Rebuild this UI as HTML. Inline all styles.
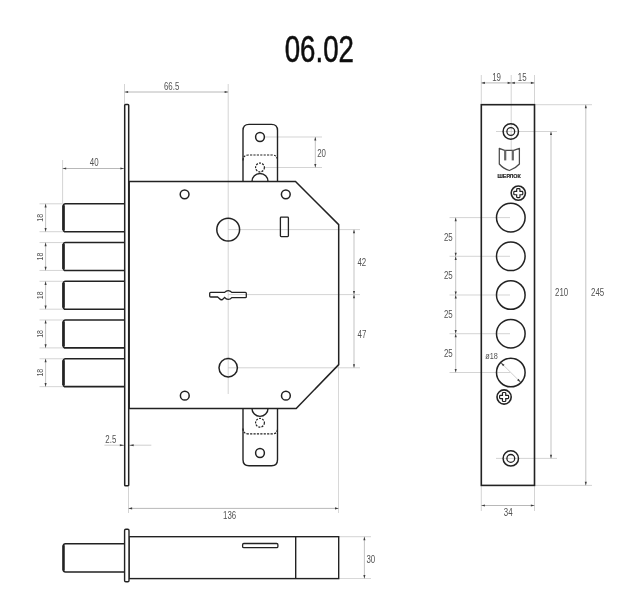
<!DOCTYPE html>
<html lang="ru"><head><meta charset="utf-8"><title>06.02</title>
<style>
html,body{margin:0;padding:0;background:#fff;}
body{width:640px;height:609px;overflow:hidden;}
svg{display:block;}
svg text{font-family:"Liberation Sans",sans-serif;}
</style></head><body>
<svg width="640" height="609" viewBox="0 0 640 609">
<defs><filter id="soft" x="0" y="0" width="640" height="609" filterUnits="userSpaceOnUse"><feGaussianBlur stdDeviation="0.35"/></filter></defs>
<rect width="640" height="609" fill="#ffffff"/>
<g filter="url(#soft)">
<text transform="translate(319.3,48.3) scale(0.735,1)" x="0" y="13.46" font-size="37.6" fill="#111" text-anchor="middle" font-weight="normal" stroke="#111" stroke-width="0.55">06.02</text>
<line x1="124.5" y1="84" x2="124.5" y2="104" stroke="#c2c2c2" stroke-width="0.7" />
<line x1="228.2" y1="84" x2="228.2" y2="394" stroke="#c2c2c2" stroke-width="0.7" />
<line x1="124.5" y1="92" x2="228.2" y2="92" stroke="#a6a6a6" stroke-width="0.8" />
<polygon points="124.50,92.00 128.10,90.95 128.10,93.05" fill="#3c3c3c"/>
<polygon points="228.20,92.00 224.60,93.05 224.60,90.95" fill="#3c3c3c"/>
<text transform="translate(171.6,85.8) scale(0.76,1)" x="0" y="3.72" font-size="10.4" fill="#525252" text-anchor="middle" font-weight="normal" >66.5</text>
<line x1="62.6" y1="160" x2="62.6" y2="203" stroke="#c2c2c2" stroke-width="0.7" />
<line x1="62.6" y1="168.5" x2="124" y2="168.5" stroke="#a6a6a6" stroke-width="0.8" />
<polygon points="62.60,168.50 66.20,167.45 66.20,169.55" fill="#3c3c3c"/>
<polygon points="124.00,168.50 120.40,169.55 120.40,167.45" fill="#3c3c3c"/>
<text transform="translate(94.2,161.9) scale(0.76,1)" x="0" y="3.72" font-size="10.4" fill="#525252" text-anchor="middle" font-weight="normal" >40</text>
<line x1="39.5" y1="203.8" x2="63" y2="203.8" stroke="#c2c2c2" stroke-width="0.7" />
<line x1="39.5" y1="231.70000000000002" x2="63" y2="231.70000000000002" stroke="#c2c2c2" stroke-width="0.7" />
<line x1="45.6" y1="203.8" x2="45.6" y2="231.70000000000002" stroke="#b4b4b4" stroke-width="0.8" />
<polygon points="45.60,203.80 46.65,207.40 44.55,207.40" fill="#3c3c3c"/>
<polygon points="45.60,231.70 44.55,228.10 46.65,228.10" fill="#3c3c3c"/>
<text transform="translate(39.4,217.75) rotate(-90) scale(0.72,1)" x="0" y="3.51" font-size="9.8" fill="#525252" text-anchor="middle" font-weight="normal" >18</text>
<line x1="39.5" y1="242.55" x2="63" y2="242.55" stroke="#c2c2c2" stroke-width="0.7" />
<line x1="39.5" y1="270.45" x2="63" y2="270.45" stroke="#c2c2c2" stroke-width="0.7" />
<line x1="45.6" y1="242.55" x2="45.6" y2="270.45" stroke="#b4b4b4" stroke-width="0.8" />
<polygon points="45.60,242.55 46.65,246.15 44.55,246.15" fill="#3c3c3c"/>
<polygon points="45.60,270.45 44.55,266.85 46.65,266.85" fill="#3c3c3c"/>
<text transform="translate(39.4,256.5) rotate(-90) scale(0.72,1)" x="0" y="3.51" font-size="9.8" fill="#525252" text-anchor="middle" font-weight="normal" >18</text>
<line x1="39.5" y1="281.3" x2="63" y2="281.3" stroke="#c2c2c2" stroke-width="0.7" />
<line x1="39.5" y1="309.2" x2="63" y2="309.2" stroke="#c2c2c2" stroke-width="0.7" />
<line x1="45.6" y1="281.3" x2="45.6" y2="309.2" stroke="#b4b4b4" stroke-width="0.8" />
<polygon points="45.60,281.30 46.65,284.90 44.55,284.90" fill="#3c3c3c"/>
<polygon points="45.60,309.20 44.55,305.60 46.65,305.60" fill="#3c3c3c"/>
<text transform="translate(39.4,295.25) rotate(-90) scale(0.72,1)" x="0" y="3.51" font-size="9.8" fill="#525252" text-anchor="middle" font-weight="normal" >18</text>
<line x1="39.5" y1="320.0" x2="63" y2="320.0" stroke="#c2c2c2" stroke-width="0.7" />
<line x1="39.5" y1="347.9" x2="63" y2="347.9" stroke="#c2c2c2" stroke-width="0.7" />
<line x1="45.6" y1="320.0" x2="45.6" y2="347.9" stroke="#b4b4b4" stroke-width="0.8" />
<polygon points="45.60,320.00 46.65,323.60 44.55,323.60" fill="#3c3c3c"/>
<polygon points="45.60,347.90 44.55,344.30 46.65,344.30" fill="#3c3c3c"/>
<text transform="translate(39.4,333.95) rotate(-90) scale(0.72,1)" x="0" y="3.51" font-size="9.8" fill="#525252" text-anchor="middle" font-weight="normal" >18</text>
<line x1="39.5" y1="358.75" x2="63" y2="358.75" stroke="#c2c2c2" stroke-width="0.7" />
<line x1="39.5" y1="386.65" x2="63" y2="386.65" stroke="#c2c2c2" stroke-width="0.7" />
<line x1="45.6" y1="358.75" x2="45.6" y2="386.65" stroke="#b4b4b4" stroke-width="0.8" />
<polygon points="45.60,358.75 46.65,362.35 44.55,362.35" fill="#3c3c3c"/>
<polygon points="45.60,386.65 44.55,383.05 46.65,383.05" fill="#3c3c3c"/>
<text transform="translate(39.4,372.7) rotate(-90) scale(0.72,1)" x="0" y="3.51" font-size="9.8" fill="#525252" text-anchor="middle" font-weight="normal" >18</text>
<line x1="104.4" y1="445.2" x2="151.3" y2="445.2" stroke="#c2c2c2" stroke-width="0.8" />
<polygon points="124.30,445.20 119.80,446.25 119.80,444.15" fill="#3c3c3c"/>
<polygon points="129.20,445.20 133.70,444.15 133.70,446.25" fill="#3c3c3c"/>
<text transform="translate(110.8,438.8) scale(0.76,1)" x="0" y="3.72" font-size="10.4" fill="#525252" text-anchor="middle" font-weight="normal" >2.5</text>
<line x1="128.5" y1="487" x2="128.5" y2="513" stroke="#c2c2c2" stroke-width="0.7" />
<line x1="338.6" y1="365" x2="338.6" y2="513" stroke="#c2c2c2" stroke-width="0.7" />
<line x1="128.5" y1="508.4" x2="338.6" y2="508.4" stroke="#a6a6a6" stroke-width="0.8" />
<polygon points="128.50,508.40 132.10,507.35 132.10,509.45" fill="#3c3c3c"/>
<polygon points="338.60,508.40 335.00,509.45 335.00,507.35" fill="#3c3c3c"/>
<text transform="translate(229.6,515.0) scale(0.76,1)" x="0" y="3.72" font-size="10.4" fill="#525252" text-anchor="middle" font-weight="normal" >136</text>
<line x1="265" y1="137" x2="322" y2="137" stroke="#c2c2c2" stroke-width="0.7" />
<line x1="265" y1="167.5" x2="322" y2="167.5" stroke="#c2c2c2" stroke-width="0.7" />
<line x1="315.3" y1="137" x2="315.3" y2="167.5" stroke="#b4b4b4" stroke-width="0.8" />
<polygon points="315.30,137.00 316.35,140.60 314.25,140.60" fill="#3c3c3c"/>
<polygon points="315.30,167.50 314.25,163.90 316.35,163.90" fill="#3c3c3c"/>
<text transform="translate(321.6,152.9) scale(0.76,1)" x="0" y="3.72" font-size="10.4" fill="#525252" text-anchor="middle" font-weight="normal" >20</text>
<line x1="228.2" y1="229.6" x2="360" y2="229.6" stroke="#c2c2c2" stroke-width="0.7" />
<line x1="228.2" y1="294.6" x2="360" y2="294.6" stroke="#c2c2c2" stroke-width="0.7" />
<line x1="228.2" y1="367.8" x2="360" y2="367.8" stroke="#c2c2c2" stroke-width="0.7" />
<line x1="354.0" y1="229.6" x2="354.0" y2="294.6" stroke="#b4b4b4" stroke-width="0.8" />
<polygon points="354.00,229.60 355.05,233.20 352.95,233.20" fill="#3c3c3c"/>
<polygon points="354.00,294.60 352.95,291.00 355.05,291.00" fill="#3c3c3c"/>
<line x1="354.0" y1="294.6" x2="354.0" y2="367.8" stroke="#b4b4b4" stroke-width="0.8" />
<polygon points="354.00,294.60 355.05,298.20 352.95,298.20" fill="#3c3c3c"/>
<polygon points="354.00,367.80 352.95,364.20 355.05,364.20" fill="#3c3c3c"/>
<text transform="translate(361.8,261.9) scale(0.76,1)" x="0" y="3.72" font-size="10.4" fill="#525252" text-anchor="middle" font-weight="normal" >42</text>
<text transform="translate(362.0,334.2) scale(0.76,1)" x="0" y="3.72" font-size="10.4" fill="#525252" text-anchor="middle" font-weight="normal" >47</text>
<line x1="339" y1="536.7" x2="371" y2="536.7" stroke="#c2c2c2" stroke-width="0.7" />
<line x1="339" y1="578.6" x2="371" y2="578.6" stroke="#c2c2c2" stroke-width="0.7" />
<line x1="364.4" y1="536.7" x2="364.4" y2="578.6" stroke="#b4b4b4" stroke-width="0.8" />
<polygon points="364.40,536.70 365.45,540.30 363.35,540.30" fill="#3c3c3c"/>
<polygon points="364.40,578.60 363.35,575.00 365.45,575.00" fill="#3c3c3c"/>
<text transform="translate(370.8,558.9) scale(0.76,1)" x="0" y="3.72" font-size="10.4" fill="#525252" text-anchor="middle" font-weight="normal" >30</text>
<line x1="481.3" y1="75" x2="481.3" y2="104" stroke="#c2c2c2" stroke-width="0.7" />
<line x1="534.5" y1="75" x2="534.5" y2="104" stroke="#c2c2c2" stroke-width="0.7" />
<line x1="511.2" y1="75" x2="511.2" y2="150" stroke="#c2c2c2" stroke-width="0.7" />
<line x1="481.3" y1="82.9" x2="511.2" y2="82.9" stroke="#a6a6a6" stroke-width="0.8" />
<polygon points="481.30,82.90 484.90,81.85 484.90,83.95" fill="#3c3c3c"/>
<polygon points="511.20,82.90 507.60,83.95 507.60,81.85" fill="#3c3c3c"/>
<line x1="511.2" y1="82.9" x2="534.5" y2="82.9" stroke="#a6a6a6" stroke-width="0.8" />
<polygon points="511.20,82.90 514.80,81.85 514.80,83.95" fill="#3c3c3c"/>
<polygon points="534.50,82.90 530.90,83.95 530.90,81.85" fill="#3c3c3c"/>
<text transform="translate(496.6,76.9) scale(0.76,1)" x="0" y="3.72" font-size="10.4" fill="#525252" text-anchor="middle" font-weight="normal" >19</text>
<text transform="translate(522.2,76.9) scale(0.76,1)" x="0" y="3.72" font-size="10.4" fill="#525252" text-anchor="middle" font-weight="normal" >15</text>
<line x1="534.5" y1="104.7" x2="592" y2="104.7" stroke="#c2c2c2" stroke-width="0.7" />
<line x1="534.5" y1="485.4" x2="592" y2="485.4" stroke="#c2c2c2" stroke-width="0.7" />
<line x1="585.8" y1="104.7" x2="585.8" y2="485.4" stroke="#b4b4b4" stroke-width="0.8" />
<polygon points="585.80,104.70 586.85,108.30 584.75,108.30" fill="#3c3c3c"/>
<polygon points="585.80,485.40 584.75,481.80 586.85,481.80" fill="#3c3c3c"/>
<text transform="translate(597.6,291.8) scale(0.76,1)" x="0" y="3.72" font-size="10.4" fill="#525252" text-anchor="middle" font-weight="normal" >245</text>
<line x1="496" y1="131.5" x2="557" y2="131.5" stroke="#c2c2c2" stroke-width="0.7" />
<line x1="496" y1="458.4" x2="557" y2="458.4" stroke="#c2c2c2" stroke-width="0.7" />
<line x1="551" y1="131.5" x2="551" y2="458.4" stroke="#b4b4b4" stroke-width="0.8" />
<polygon points="551.00,131.50 552.05,135.10 549.95,135.10" fill="#3c3c3c"/>
<polygon points="551.00,458.40 549.95,454.80 552.05,454.80" fill="#3c3c3c"/>
<text transform="translate(561.6,291.8) scale(0.76,1)" x="0" y="3.72" font-size="10.4" fill="#525252" text-anchor="middle" font-weight="normal" >210</text>
<line x1="449.5" y1="217.6" x2="510" y2="217.6" stroke="#c2c2c2" stroke-width="0.7" />
<line x1="449.5" y1="256.3" x2="510" y2="256.3" stroke="#c2c2c2" stroke-width="0.7" />
<line x1="449.5" y1="295.0" x2="510" y2="295.0" stroke="#c2c2c2" stroke-width="0.7" />
<line x1="449.5" y1="333.7" x2="510" y2="333.7" stroke="#c2c2c2" stroke-width="0.7" />
<line x1="449.5" y1="372.5" x2="510" y2="372.5" stroke="#c2c2c2" stroke-width="0.7" />
<line x1="455.7" y1="217.6" x2="455.7" y2="256.3" stroke="#b4b4b4" stroke-width="0.8" />
<polygon points="455.70,217.60 456.75,221.20 454.65,221.20" fill="#3c3c3c"/>
<polygon points="455.70,256.30 454.65,252.70 456.75,252.70" fill="#3c3c3c"/>
<text transform="translate(448.3,236.95) scale(0.76,1)" x="0" y="3.72" font-size="10.4" fill="#525252" text-anchor="middle" font-weight="normal" >25</text>
<line x1="455.7" y1="256.3" x2="455.7" y2="295.0" stroke="#b4b4b4" stroke-width="0.8" />
<polygon points="455.70,256.30 456.75,259.90 454.65,259.90" fill="#3c3c3c"/>
<polygon points="455.70,295.00 454.65,291.40 456.75,291.40" fill="#3c3c3c"/>
<text transform="translate(448.3,275.65) scale(0.76,1)" x="0" y="3.72" font-size="10.4" fill="#525252" text-anchor="middle" font-weight="normal" >25</text>
<line x1="455.7" y1="295.0" x2="455.7" y2="333.7" stroke="#b4b4b4" stroke-width="0.8" />
<polygon points="455.70,295.00 456.75,298.60 454.65,298.60" fill="#3c3c3c"/>
<polygon points="455.70,333.70 454.65,330.10 456.75,330.10" fill="#3c3c3c"/>
<text transform="translate(448.3,314.35) scale(0.76,1)" x="0" y="3.72" font-size="10.4" fill="#525252" text-anchor="middle" font-weight="normal" >25</text>
<line x1="455.7" y1="333.7" x2="455.7" y2="372.5" stroke="#b4b4b4" stroke-width="0.8" />
<polygon points="455.70,333.70 456.75,337.30 454.65,337.30" fill="#3c3c3c"/>
<polygon points="455.70,372.50 454.65,368.90 456.75,368.90" fill="#3c3c3c"/>
<text transform="translate(448.3,353.1) scale(0.76,1)" x="0" y="3.72" font-size="10.4" fill="#525252" text-anchor="middle" font-weight="normal" >25</text>
<line x1="500.4" y1="362.2" x2="521.2" y2="382.8" stroke="#c2c2c2" stroke-width="0.8" />
<polygon points="500.60,362.40 504.52,364.84 503.04,366.32" fill="#3c3c3c"/>
<polygon points="521.00,382.60 517.08,380.16 518.56,378.68" fill="#3c3c3c"/>
<text transform="translate(491.6,355.4) scale(0.76,1)" x="0" y="3.44" font-size="9.6" fill="#525252" text-anchor="middle" font-weight="normal" >ø18</text>
<line x1="481.3" y1="486" x2="481.3" y2="511" stroke="#c2c2c2" stroke-width="0.7" />
<line x1="534.5" y1="486" x2="534.5" y2="511" stroke="#c2c2c2" stroke-width="0.7" />
<line x1="481.3" y1="505.5" x2="534.5" y2="505.5" stroke="#a6a6a6" stroke-width="0.8" />
<polygon points="481.30,505.50 484.90,504.45 484.90,506.55" fill="#3c3c3c"/>
<polygon points="534.50,505.50 530.90,506.55 530.90,504.45" fill="#3c3c3c"/>
<text transform="translate(508.2,511.8) scale(0.76,1)" x="0" y="3.72" font-size="10.4" fill="#525252" text-anchor="middle" font-weight="normal" >34</text>
<rect x="124.7" y="104.5" width="4.0" height="381.2" rx="0.8" fill="#fff" stroke="#222222" stroke-width="1.5"/>
<line x1="129.3" y1="181.5" x2="129.3" y2="408.4" stroke="#222222" stroke-width="1.2" />
<path d="M129,181.5 H295.5 L338.7,224.6 V364.6 L296.2,408.4 H129" stroke="#222222" stroke-width="1.5" fill="none"/>
<path d="M243,181.5 V130.4 Q243,124.4 249,124.4 H271.5 Q277.5,124.4 277.5,130.4 V181.5" stroke="#222222" stroke-width="1.4" fill="none"/>
<circle cx="260" cy="137" r="4.4" fill="none" stroke="#222222" stroke-width="1.5" />
<path d="M243,160.5 Q243,155 248.5,155 H272 Q277.5,155 277.5,160.5" stroke="#222222" stroke-width="1.2" fill="none" stroke-dasharray="2.2 1.2"/>
<circle cx="260" cy="167.5" r="4.4" fill="none" stroke="#222222" stroke-width="1.2" stroke-dasharray="2 1.2"/>
<path d="M252,181.5 A8,8 0 0 1 268,181.5" stroke="#222222" stroke-width="1.4" fill="none"/>
<path d="M243,408.4 V459.8 Q243,465.8 249,465.8 H271.5 Q277.5,465.8 277.5,459.8 V408.4" stroke="#222222" stroke-width="1.4" fill="none"/>
<circle cx="260" cy="453" r="4.4" fill="none" stroke="#222222" stroke-width="1.5" />
<path d="M243,428.5 Q243,433.9 248.5,433.9 H272 Q277.5,433.9 277.5,428.5" stroke="#222222" stroke-width="1.2" fill="none" stroke-dasharray="2.2 1.2"/>
<circle cx="260" cy="422.8" r="4.4" fill="none" stroke="#222222" stroke-width="1.2" stroke-dasharray="2 1.2"/>
<path d="M252,408.4 A8,8 0 0 0 268,408.4" stroke="#222222" stroke-width="1.4" fill="none"/>
<circle cx="184.6" cy="194.3" r="4.4" fill="none" stroke="#222222" stroke-width="1.5" />
<circle cx="285.8" cy="194.3" r="4.4" fill="none" stroke="#222222" stroke-width="1.5" />
<circle cx="184.8" cy="395.7" r="4.4" fill="none" stroke="#222222" stroke-width="1.5" />
<circle cx="285.9" cy="395.7" r="4.4" fill="none" stroke="#222222" stroke-width="1.5" />
<circle cx="228.2" cy="229.6" r="11.4" fill="none" stroke="#222222" stroke-width="1.5" />
<circle cx="228.2" cy="367.8" r="9.2" fill="none" stroke="#222222" stroke-width="1.5" />
<rect x="280.4" y="217.2" width="8" height="19.4" rx="0.8" fill="none" stroke="#222222" stroke-width="1.3"/>
<path d="M210.6,292.4 H224.6 Q226.2,290.6 228.2,290.6 Q230.2,290.6 231.8,292.4 H245.4 Q246.3,292.4 246.3,293.3 V296.7 Q246.3,297.6 245.4,297.6 H231.8 Q230.4,299.4 228.2,299.4 Q226,299.4 224.6,297.4 L222.6,299.4 Q221,300.4 219.6,298.8 L217.6,297 H210.6 Q209.7,297 209.7,296.1 V293.3 Q209.7,292.4 210.6,292.4 Z" stroke="#222222" stroke-width="1.3" fill="none"/>
<path d="M124.5,203.8 H65.5 Q63.4,203.8 63.4,205.8 V229.70000000000002 Q63.4,231.70000000000002 65.5,231.70000000000002 H124.5" stroke="#222222" stroke-width="1.6" fill="none"/>
<line x1="63.5" y1="205.3" x2="63.5" y2="230.20000000000002" stroke="#222222" stroke-width="2.6" />
<path d="M124.5,242.55 H65.5 Q63.4,242.55 63.4,244.55 V268.45 Q63.4,270.45 65.5,270.45 H124.5" stroke="#222222" stroke-width="1.6" fill="none"/>
<line x1="63.5" y1="244.05" x2="63.5" y2="268.95" stroke="#222222" stroke-width="2.6" />
<path d="M124.5,281.3 H65.5 Q63.4,281.3 63.4,283.3 V307.2 Q63.4,309.2 65.5,309.2 H124.5" stroke="#222222" stroke-width="1.6" fill="none"/>
<line x1="63.5" y1="282.8" x2="63.5" y2="307.7" stroke="#222222" stroke-width="2.6" />
<path d="M124.5,320.0 H65.5 Q63.4,320.0 63.4,322.0 V345.9 Q63.4,347.9 65.5,347.9 H124.5" stroke="#222222" stroke-width="1.6" fill="none"/>
<line x1="63.5" y1="321.5" x2="63.5" y2="346.4" stroke="#222222" stroke-width="2.6" />
<path d="M124.5,358.75 H65.5 Q63.4,358.75 63.4,360.75 V384.65 Q63.4,386.65 65.5,386.65 H124.5" stroke="#222222" stroke-width="1.6" fill="none"/>
<line x1="63.5" y1="360.25" x2="63.5" y2="385.15" stroke="#222222" stroke-width="2.6" />
<rect x="129" y="536.7" width="209.7" height="41.9" fill="none" stroke="#222222" stroke-width="1.4"/>
<line x1="295.7" y1="536.7" x2="295.7" y2="578.6" stroke="#222222" stroke-width="1.4" />
<rect x="124.6" y="529.2" width="4.4" height="52.6" rx="1.2" fill="#fff" stroke="#222222" stroke-width="1.4"/>
<rect x="242.6" y="543.5" width="35.3" height="4.2" rx="1.3" fill="none" stroke="#222222" stroke-width="1.3"/>
<path d="M124.4,543.8 H65.5 Q63.4,543.8 63.4,545.8 V570 Q63.4,572 65.5,572 H124.4" stroke="#222222" stroke-width="1.6" fill="none"/>
<line x1="63.5" y1="545.3" x2="63.5" y2="570.5" stroke="#222222" stroke-width="2.4" />
<rect x="481.3" y="104.7" width="53.2" height="380.7" fill="none" stroke="#222222" stroke-width="1.6"/>
<circle cx="510.8" cy="217.6" r="14.3" fill="none" stroke="#222222" stroke-width="1.5" />
<circle cx="510.8" cy="256.3" r="14.3" fill="none" stroke="#222222" stroke-width="1.5" />
<circle cx="510.8" cy="295.0" r="14.3" fill="none" stroke="#222222" stroke-width="1.5" />
<circle cx="510.8" cy="333.7" r="14.3" fill="none" stroke="#222222" stroke-width="1.5" />
<circle cx="510.8" cy="372.5" r="14.3" fill="none" stroke="#222222" stroke-width="1.5" />
<circle cx="510.8" cy="131.5" r="7.7" fill="none" stroke="#222222" stroke-width="1.5" />
<circle cx="510.8" cy="131.5" r="3.9" fill="none" stroke="#222222" stroke-width="1.3" />
<circle cx="510.8" cy="458.4" r="7.7" fill="none" stroke="#222222" stroke-width="1.5" />
<circle cx="510.8" cy="458.4" r="3.9" fill="none" stroke="#222222" stroke-width="1.3" />
<circle cx="518.3" cy="193.1" r="7.1" fill="none" stroke="#222222" stroke-width="1.6" />
<path d="M516.65,189.4 Q516.65,188.6 517.4499999999999,188.6 H519.15 Q519.9499999999999,188.6 519.9499999999999,189.4 V191.45 H522.0 Q522.8,191.45 522.8,192.25 V193.95 Q522.8,194.75 522.0,194.75 H519.9499999999999 V196.79999999999998 Q519.9499999999999,197.6 519.15,197.6 H517.4499999999999 Q516.65,197.6 516.65,196.79999999999998 V194.75 H514.5999999999999 Q513.8,194.75 513.8,193.95 V192.25 Q513.8,191.45 514.5999999999999,191.45 H516.65 Z" stroke="#222222" stroke-width="1.2" fill="none"/>
<circle cx="504.1" cy="397.0" r="7.1" fill="none" stroke="#222222" stroke-width="1.6" />
<path d="M502.45000000000005,393.3 Q502.45000000000005,392.5 503.25000000000006,392.5 H504.95 Q505.75,392.5 505.75,393.3 V395.35 H507.8 Q508.6,395.35 508.6,396.15000000000003 V397.84999999999997 Q508.6,398.65 507.8,398.65 H505.75 V400.7 Q505.75,401.5 504.95,401.5 H503.25000000000006 Q502.45000000000005,401.5 502.45000000000005,400.7 V398.65 H500.40000000000003 Q499.6,398.65 499.6,397.84999999999997 V396.15000000000003 Q499.6,395.35 500.40000000000003,395.35 H502.45000000000005 Z" stroke="#222222" stroke-width="1.2" fill="none"/>
<path d="M499.3,148.3 L504.6,150.3 H513.7 L519.4,148.3 V164 Q515.6,168.4 509.4,170.5 Q503,168.4 499.3,164 Z" stroke="#4a4a4a" stroke-width="1.25" fill="none" stroke-linejoin="round"/>
<line x1="505.2" y1="150.3" x2="505.2" y2="160.4" stroke="#666" stroke-width="2.2" />
<line x1="512.8" y1="150.3" x2="512.8" y2="160.4" stroke="#666" stroke-width="2.2" />
<text transform="translate(509.1,175.9) scale(0.97,1)" x="0" y="1.97" font-size="5.5" fill="#2a2a2a" text-anchor="middle" font-weight="bold" stroke="#2a2a2a" stroke-width="0.25">ШЕРЛОК</text>
</g>
</svg>
</body></html>
